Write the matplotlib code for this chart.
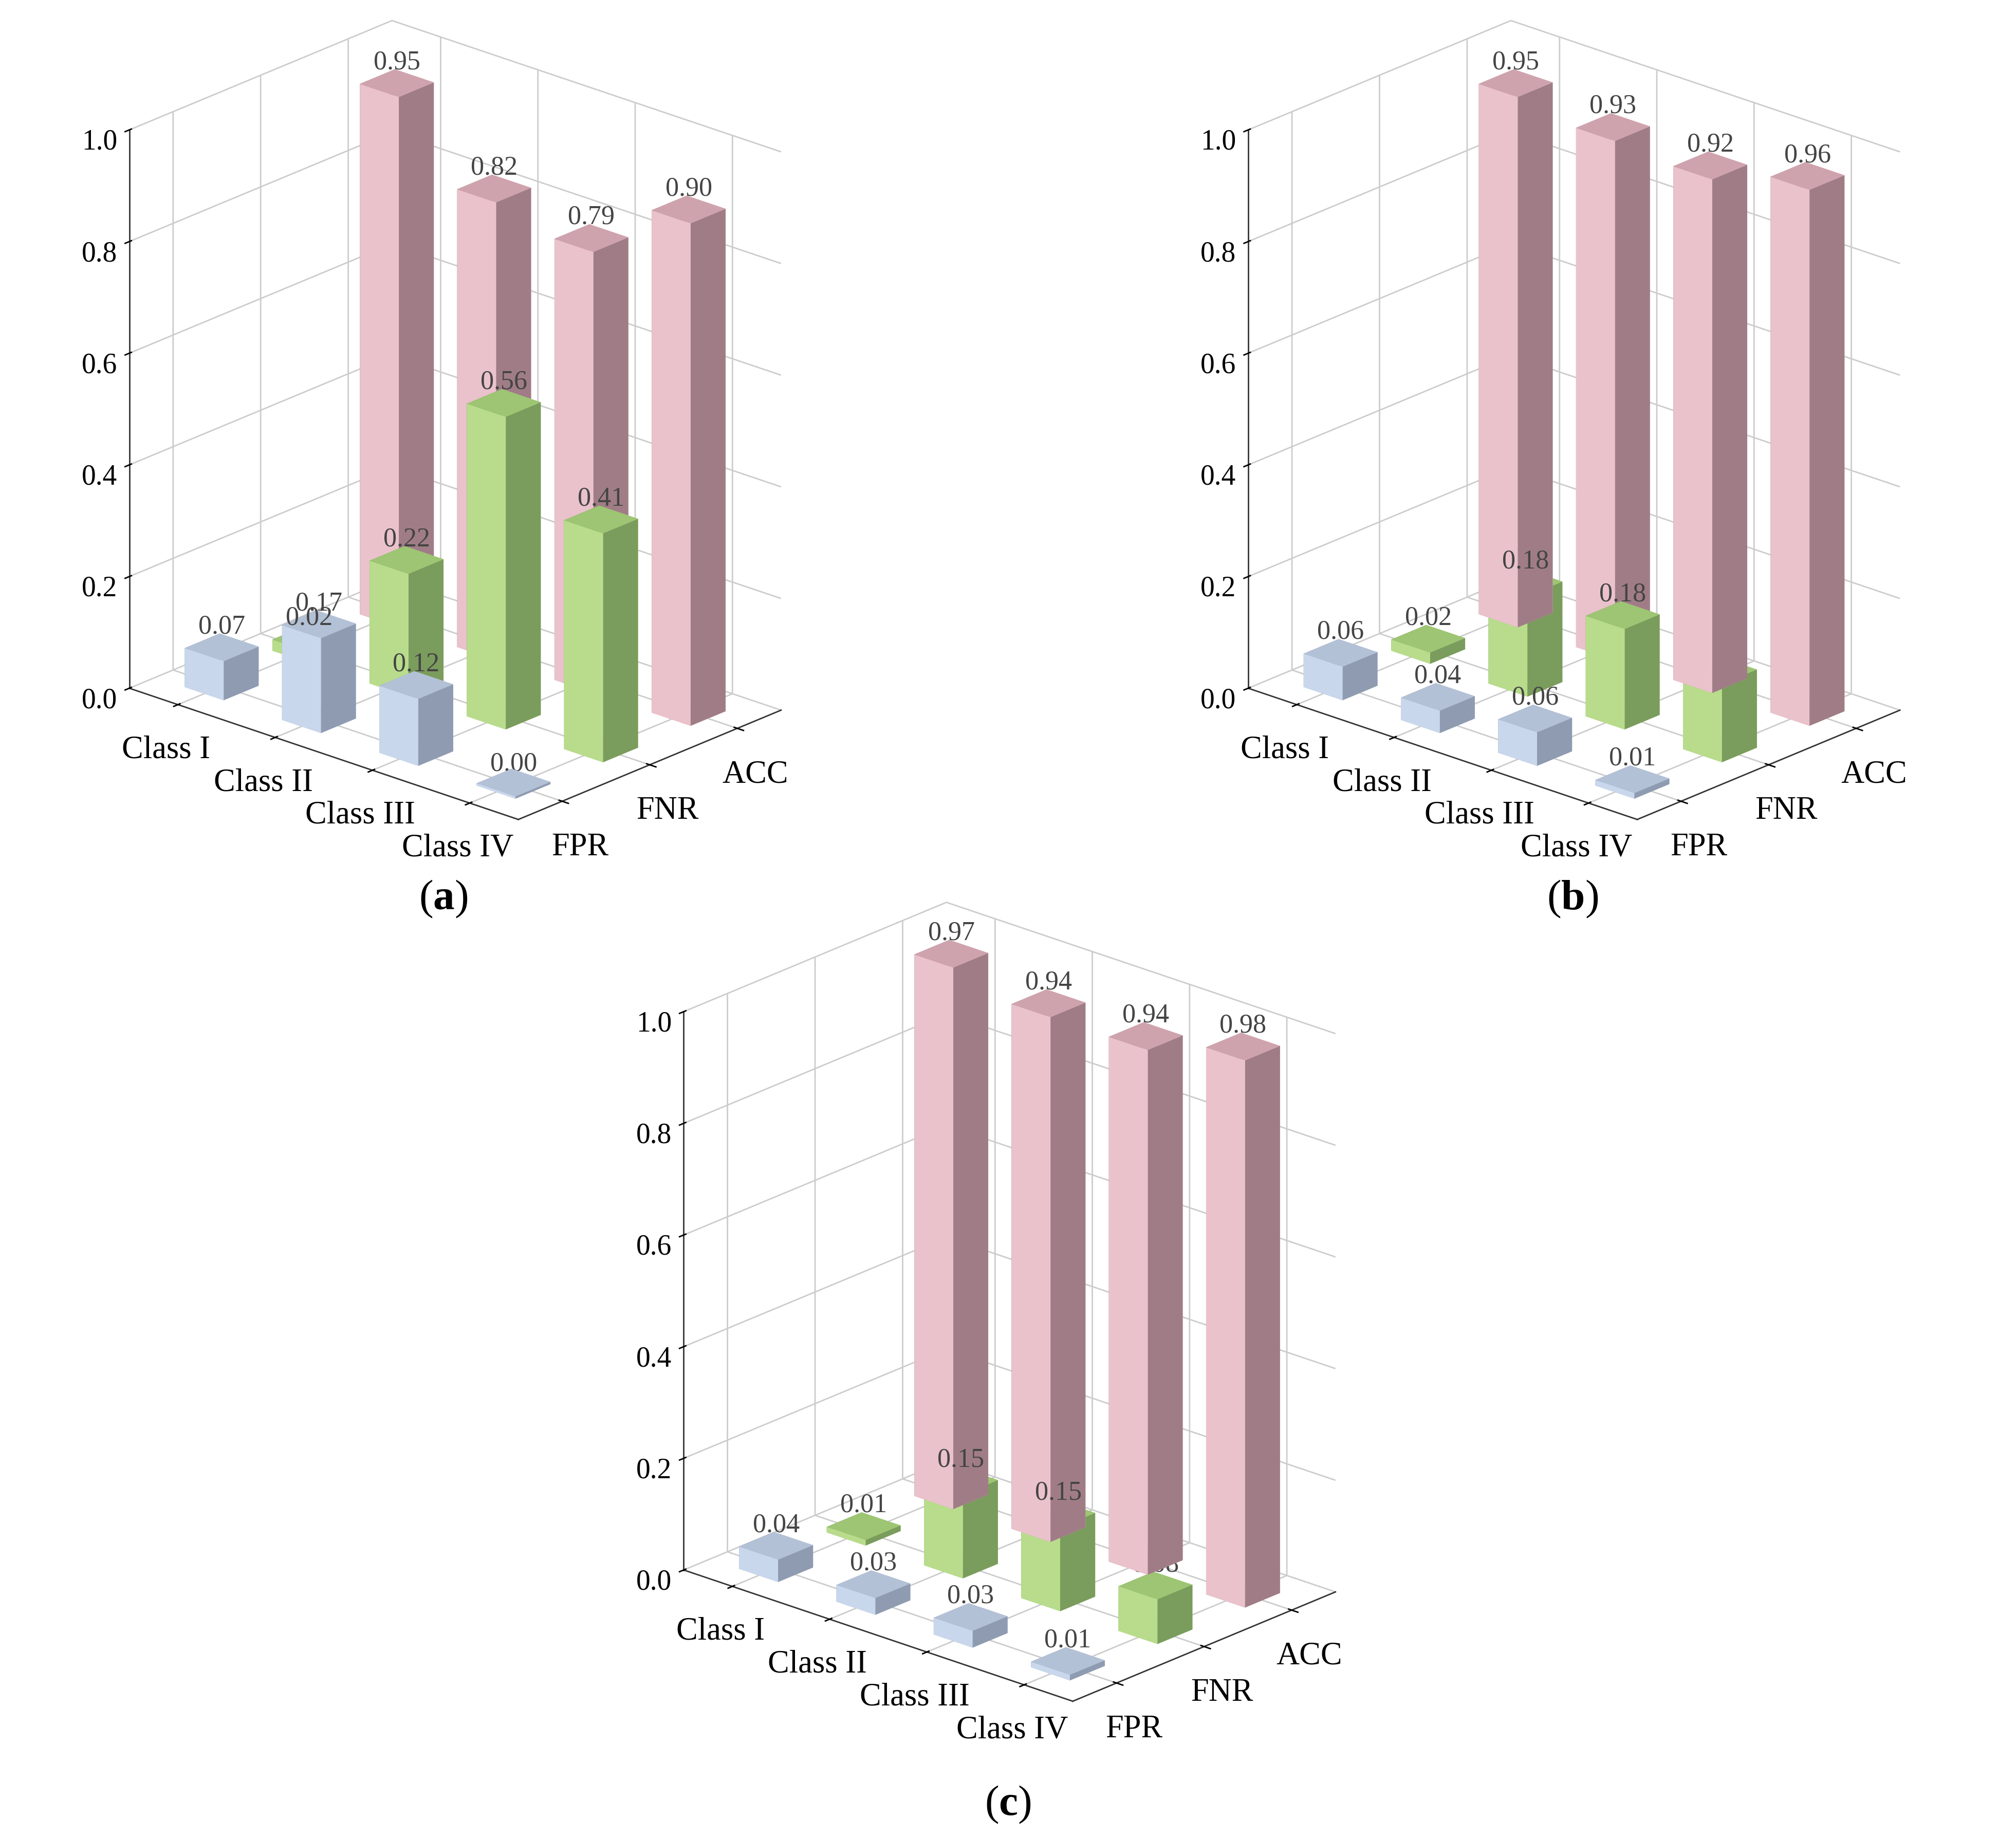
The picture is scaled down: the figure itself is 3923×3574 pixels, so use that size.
import numpy as np
import matplotlib
matplotlib.use("Agg")
import matplotlib.pyplot as plt

plt.rcParams['font.family'] = ['Liberation Serif', 'DejaVu Serif']
plt.rcParams['mathtext.fontset'] = 'custom'
plt.rcParams['mathtext.bf'] = 'Liberation Serif:bold'
plt.rcParams['mathtext.rm'] = 'Liberation Serif'

classes = ["Class I", "Class II", "Class III", "Class IV"]
metrics = ["FPR", "FNR", "ACC"]
# face colours: left (light), top, right (dark)
face_cols = {"FPR": ("#c9d7ec", "#b3c1d6", "#8f9bb0"),
             "FNR": ("#b8dc8c", "#9dc573", "#7a9c5c"),
             "ACC": ("#eac2cb", "#cfa3ad", "#a07d86")}

panel_a = {"FPR": [0.07, 0.17, 0.12, 0.00],
           "FNR": [0.02, 0.22, 0.56, 0.41],
           "ACC": [0.95, 0.82, 0.79, 0.90]}
panel_b = {"FPR": [0.06, 0.04, 0.06, 0.01],
           "FNR": [0.02, 0.18, 0.18, 0.14],
           "ACC": [0.95, 0.93, 0.92, 0.96]}
panel_c = {"FPR": [0.04, 0.03, 0.03, 0.01],
           "FNR": [0.01, 0.15, 0.15, 0.08],
           "ACC": [0.97, 0.94, 0.94, 0.98]}


def draw(ax, data):
    w = 0.4
    for j, m in enumerate(metrics):
        light, top, dark = face_cols[m]
        # order: -z, +z, -y, +y, -x, +x
        fc = [top, top, light, light, dark, dark]
        for i, v in enumerate(data[m]):
            ax.bar3d(i - w / 2, j - w / 2, 0, w, w, max(v, 0.004),
                     color=fc, shade=False, edgecolor='none')
            ax.text(i, j, v + 0.015, f"{v:.2f}", fontsize=15,
                    color='#444444', ha='center', va='bottom', zorder=10)
    ax.set_xlim(-0.5, 3.5)
    ax.set_ylim(-0.5, 2.5)
    ax.set_zlim(0, 1.0)
    ax.set_xticks(range(4))
    ax.set_xticklabels(classes, fontsize=18)
    ax.set_yticks(range(3))
    ax.set_yticklabels(metrics, fontsize=18)
    ax.set_zticks(np.arange(0, 1.01, 0.2))
    ax.set_zticklabels([f"{t:.1f}" for t in np.arange(0, 1.01, 0.2)], fontsize=16)
    ax.zaxis.set_ticks_position('lower')
    for axis in (ax.xaxis, ax.yaxis, ax.zaxis):
        axis.set_pane_color((1, 1, 1, 0))
        axis._axinfo['grid']['color'] = '#cccccc'
        axis._axinfo['grid']['linewidth'] = 0.8
        axis.line.set_color('#333333')
    ax.set_box_aspect((4, 3, 4.6))
    ax.view_init(elev=22, azim=-48)


fig = plt.figure(figsize=(15.692, 14.296), dpi=250)
ax_a = fig.add_axes([0.0, 0.53, 0.44, 0.47], projection='3d', proj_type='ortho')
ax_b = fig.add_axes([0.555, 0.53, 0.44, 0.47], projection='3d', proj_type='ortho')
ax_c = fig.add_axes([0.275, 0.05, 0.44, 0.47], projection='3d', proj_type='ortho')
draw(ax_a, panel_a)
draw(ax_b, panel_b)
draw(ax_c, panel_c)

for x, y, s in [(0.22, 0.505, 'a'), (0.78, 0.505, 'b'), (0.5, 0.012, 'c')]:
    fig.text(x, y, rf"($\mathbf{{{s}}}$)", fontsize=24, ha='center')

fig.savefig("out.png", dpi=250)
